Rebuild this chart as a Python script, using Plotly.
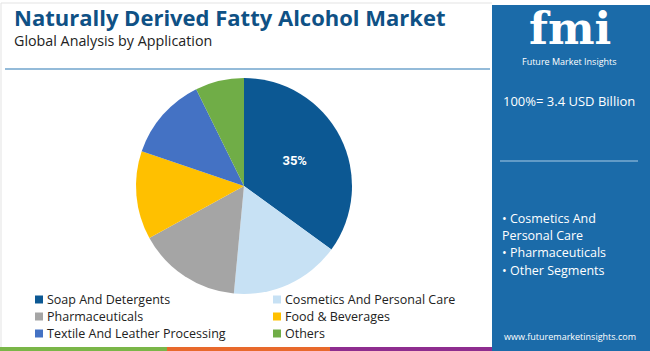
import plotly.graph_objects as go

categories = ["Soap And Detergents", "Cosmetics And Personal Care", "Pharmaceuticals",
              "Food & Beverages", "Textile And Leather Processing", "Others"]
shares = [35.0, 16.5, 15.5, 13.2, 12.5, 7.3]
colors = ["#0c5893", "#c7e1f4", "#a5a5a5", "#ffc000", "#4472c4", "#70ad47"]
slice_text = ["35%", "", "", "", "", ""]

title = "Naturally Derived Fatty Alcohol Market"
subtitle = "Global Analysis by Application"
market_size = "100%= 3.4 USD Billion"
bullets = ["• Cosmetics And", "Personal Care", "• Pharmaceuticals", "• Other Segments"]

W, H = 650, 351
def px(x): return x / W
def py(y): return 1 - y / H

fig = go.Figure()
fig.add_trace(go.Pie(
    labels=categories, values=shares, sort=False, direction="clockwise", rotation=0,
    marker=dict(colors=colors, line=dict(width=0)),
    text=slice_text, texttemplate="<b>%{text}</b>", textposition="inside",
    insidetextfont=dict(color="white", size=13, family="Roboto"),
    domain=dict(x=[px(136), px(352)], y=[py(294), py(78)]),
    hoverinfo="label+percent", showlegend=False,
))

shapes = []
# right panel
shapes.append(dict(type="rect", xref="paper", yref="paper", x0=px(492), x1=1, y0=0, y1=py(5),
                   fillcolor="#1b6ba9", line=dict(width=0), layer="below"))
# line under subtitle
shapes.append(dict(type="line", xref="paper", yref="paper", x0=px(5), x1=px(490), y0=py(69), y1=py(69),
                   line=dict(color="#2a78b4", width=1.2)))
# panel separator line
shapes.append(dict(type="line", xref="paper", yref="paper", x0=px(500), x1=px(638), y0=py(161), y1=py(161),
                   line=dict(color="#a9cbe6", width=1.2)))
# bottom stripes
for x0, x1, c in [(0, 167, "#7ab648"), (167, 330, "#e8692c"), (330, 492, "#8e2d8f")]:
    shapes.append(dict(type="rect", xref="paper", yref="paper", x0=px(x0), x1=px(x1), y0=0, y1=py(347),
                       fillcolor=c, line=dict(width=0)))
# page border
shapes.append(dict(type="line", xref="paper", yref="paper", x0=px(1), x1=px(1), y0=py(347), y1=py(3),
                   line=dict(color="#e3e3e3", width=1)))
shapes.append(dict(type="line", xref="paper", yref="paper", x0=px(1), x1=px(492), y0=py(3), y1=py(3),
                   line=dict(color="#e3e3e3", width=1)))

ann = []
ann.append(dict(text="<b>" + title + "</b>", x=px(12), y=py(17), xanchor="left", yanchor="middle",
                font=dict(family="Open Sans", size=22, color="#0f5185")))
ann.append(dict(text=subtitle, x=px(12), y=py(40), xanchor="left", yanchor="middle",
                font=dict(family="Open Sans", size=14.3, color="#222222")))
ann.append(dict(text="<b>fmi</b>", x=px(570), y=py(28), xanchor="center", yanchor="middle",
                font=dict(family="DejaVu Serif", size=44, color="white")))
ann.append(dict(text="Future Market Insights", x=px(569), y=py(62), xanchor="center", yanchor="middle",
                font=dict(family="Open Sans", size=9, color="white")))
ann.append(dict(text=market_size, x=px(501), y=py(101), xanchor="left", yanchor="middle",
                font=dict(family="Open Sans", size=13, color="white")))
for i, b in enumerate(bullets):
    ann.append(dict(text=b, x=px(500), y=py(218 + i * 17.5), xanchor="left", yanchor="middle",
                    font=dict(family="Open Sans", size=12.5, color="white")))
ann.append(dict(text="www.futuremarketinsights.com", x=px(570), y=py(336), xanchor="center", yanchor="middle",
                font=dict(family="Open Sans", size=9, color="white")))

# legend (two columns, row-wise order)
col_x = [35, 273]
row_y = [299.5, 316.5, 333.5]
for i, (cat, col) in enumerate(zip(categories, colors)):
    cx = col_x[i % 2]
    cy = row_y[i // 2]
    shapes.append(dict(type="rect", xref="paper", yref="paper", x0=px(cx), x1=px(cx + 8),
                       y0=py(cy + 4), y1=py(cy - 4), fillcolor=col, line=dict(width=0)))
    ann.append(dict(text=cat, x=px(cx + 11), y=py(cy), xanchor="left", yanchor="middle",
                    font=dict(family="Open Sans", size=12.5, color="#222222"), borderpad=0))

for a in ann:
    a.update(xref="paper", yref="paper", showarrow=False)

fig.update_layout(
    width=W, height=H, margin=dict(l=0, r=0, t=0, b=0),
    paper_bgcolor="white", plot_bgcolor="white",
    shapes=shapes, annotations=ann, showlegend=False,
)

fig.write_html("out.html")
